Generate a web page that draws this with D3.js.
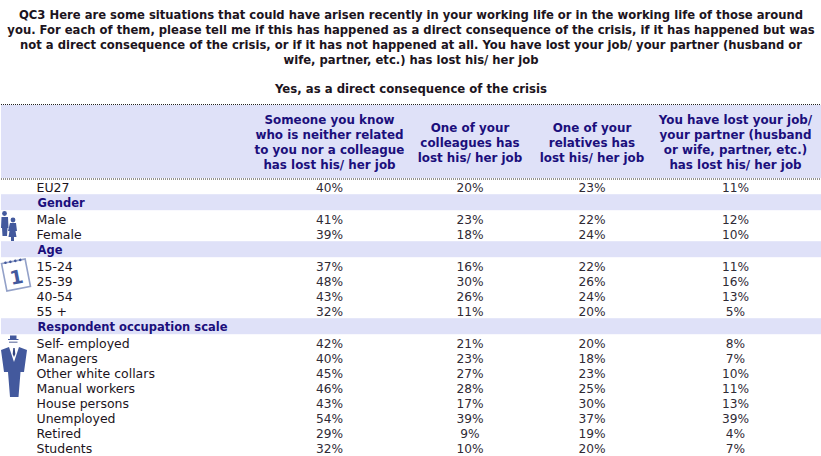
<!DOCTYPE html>
<html>
<head>
<meta charset="utf-8">
<script src="https://cdn.jsdelivr.net/npm/d3@7"></script>
<style>
body { margin: 0; background: #fff; }
svg { display: block; font-family: "DejaVu Sans", Verdana, sans-serif; }
</style>
</head>
<body>
<div id="chart"></div>
<script>
const titleLines = [
  "QC3 Here are some situations that could have arisen recently in your working life or in the working life of those around",
  "you. For each of them, please tell me if this has happened as a direct consequence of the crisis, if it has happened but was",
  "not a direct consequence of the crisis, or if it has not happened at all. You have lost your job/ your partner (husband or",
  "wife, partner, etc.) has lost his/ her job"
];
const subtitle = "Yes, as a direct consequence of the crisis";

const columns = ["someone", "colleagues", "relatives", "you"];
const columnHeads = [
  ["Someone you know", "who is neither related", "to you nor a colleague", "has lost his/ her job"],
  ["One of your", "colleagues has", "lost his/ her job"],
  ["One of your", "relatives has", "lost his/ her job"],
  ["You have lost your job/", "your partner (husband", "or wife, partner, etc.)", "has lost his/ her job"]
];

const rowLabels = ["EU27", "Gender", "Male", "Female", "Age", "15-24", "25-39", "40-54", "55 +",
  "Respondent occupation scale", "Self- employed", "Managers", "Other white collars", "Manual workers",
  "House persons", "Unemployed", "Retired", "Students"];
const headingRows = ["Gender", "Age", "Respondent occupation scale"];

const someone    = [40, null, 41, 39, null, 37, 48, 43, 32, null, 42, 40, 45, 46, 43, 54, 29, 32];
const colleagues = [20, null, 23, 18, null, 16, 30, 26, 11, null, 21, 23, 27, 28, 17, 39, 9, 10];
const relatives  = [23, null, 22, 24, null, 22, 26, 24, 20, null, 20, 18, 23, 25, 30, 37, 19, 20];
const you        = [11, null, 12, 10, null, 11, 16, 13, 5, null, 8, 7, 10, 11, 13, 39, 4, 7];
const seriesValues = [someone, colleagues, relatives, you];

const width = 821, height = 456;
const bandColor = "#dfe1f8", headColor = "#1b0f7c", textColor = "#1c1420", iconColor = "#43599d";

const svg = d3.select("#chart").append("svg")
    .attr("width", width)
    .attr("height", height);

// column centres are uneven in the original table
const x = d3.scaleOrdinal().domain(columns).range([329.5, 470, 592, 735.5]);

// row pitch is 15px, the row under each heading sits 2px lower
let passed = 0;
const rowStep = new Map();
rowLabels.forEach((r, i) => {
  rowStep.set(r, i + passed * 2 / 15);
  if (headingRows.includes(r)) passed++;
});
const y = d3.scaleLinear().domain([0, 1]).range([187.7, 202.7]);
const rowY = r => y(rowStep.get(r));

// title
svg.append("g").selectAll("text")
    .data(titleLines)
    .join("text")
    .attr("x", 411)
    .attr("y", (d, i) => 18.7 + i * 15)
    .attr("text-anchor", "middle")
    .attr("font-size", 11.6)
    .attr("font-weight", "bold")
    .attr("fill", "#1c1420")
    .text(d => d);

svg.append("text")
    .attr("x", 411)
    .attr("y", 92.7)
    .attr("text-anchor", "middle")
    .attr("font-size", 11.7)
    .attr("font-weight", "bold")
    .attr("fill", "#1c1420")
    .text(subtitle);

// header band
svg.append("rect")
    .attr("x", 1).attr("y", 105).attr("width", width - 1).attr("height", 73)
    .attr("fill", bandColor);
svg.selectAll(".rule")
    .data([104.5, 179])
    .join("line")
    .attr("class", "rule")
    .attr("x1", 1).attr("x2", width)
    .attr("y1", d => d).attr("y2", d => d)
    .attr("stroke", "#222")
    .attr("stroke-width", 1)
    .attr("stroke-dasharray", "1,1");

const heads = svg.append("g").selectAll("g")
    .data(columns)
    .join("g");
heads.selectAll("text")
    .data((c, i) => columnHeads[i].map((t, j, all) => ({c, t, j, n: all.length})))
    .join("text")
    .attr("x", d => x(d.c))
    .attr("y", d => 123.5 + d.j * 15 + (4 - d.n) * 8.5)
    .attr("text-anchor", "middle")
    .attr("font-size", 11.9)
    .attr("font-weight", "bold")
    .attr("fill", headColor)
    .text(d => d.t);

// heading rows
svg.append("g").selectAll("rect")
    .data(headingRows)
    .join("rect")
    .attr("x", 1)
    .attr("y", d => rowY(d) - 8.5)
    .attr("width", width - 1)
    .attr("height", 16)
    .attr("fill", bandColor);

// row labels
svg.append("g").selectAll("text")
    .data(rowLabels)
    .join("text")
    .attr("x", d => headingRows.includes(d) ? 37.5 : 36.5)
    .attr("y", d => rowY(d) + 4.5)
    .attr("font-size", d => headingRows.includes(d) ? 11.5 : 12.5)
    .attr("font-weight", d => headingRows.includes(d) ? "bold" : "normal")
    .attr("fill", d => headingRows.includes(d) ? headColor : textColor)
    .text(d => d);

// values
const cols = svg.append("g").selectAll("g")
    .data(columns)
    .join("g");
cols.selectAll("text")
    .data((c, i) => seriesValues[i].map((v, r) => ({c, v, r})).filter(d => d.v !== null))
    .join("text")
    .attr("x", d => x(d.c))
    .attr("y", d => rowY(rowLabels[d.r]) + 4.5)
    .attr("text-anchor", "middle")
    .attr("font-size", 12.2)
    .attr("fill", "#2f2a35")
    .text(d => d.v + "%");

// gender icon
const people = svg.append("g").attr("fill", iconColor);
people.append("circle").attr("cx", 4.5).attr("cy", 213.5).attr("r", 2.4);
people.append("path").attr("d", "M1.5,217h6.5l0.5,11h-1l-0.5,8h-4.5l-0.5,-8h-1z");
people.append("circle").attr("cx", 13).attr("cy", 220).attr("r", 2.4);
people.append("path").attr("d", "M10,223h6l1,8h-1.5l1,6h-2.5v4h-3v-4h-2.5l1,-6h-1.5z");

// calendar icon
const cal = svg.append("g").attr("transform", "rotate(-11 16 275)");
cal.append("rect").attr("x", 4).attr("y", 261).attr("width", 24).attr("height", 28)
    .attr("fill", "#fff").attr("stroke", "#93a1c8").attr("stroke-width", 1.6);
cal.append("text").attr("x", 16).attr("y", 284).attr("text-anchor", "middle")
    .attr("font-size", 19).attr("font-weight", "bold").attr("fill", iconColor).text("1");
cal.selectAll("circle").data([8, 13, 18, 23]).join("circle")
    .attr("cx", d => d).attr("cy", 261).attr("r", 1.3).attr("fill", iconColor);

// businessman icon
const man = svg.append("g").attr("fill", iconColor);
man.append("path").attr("d", "M10,339V335.5h6.5V339h2v1h-10.5v-1z");
man.append("path").attr("d", "M9,341.5h8.5v1.5h-8.5z").attr("fill", "#8a94b8");
man.append("path").attr("d", "M9,347L1,350L4,372L8,372L10,397H18.5L20.5,372L24,372L27,350L19,347L14,362z");
man.append("path").attr("d", "M11,346.5h6L14,360z").attr("fill", "#fff");
man.append("path").attr("d", "M13.3,348h1.4l0.6,6l-1.3,3l-1.3,-3z").attr("fill", "#33457f");
</script>
</body>
</html>
